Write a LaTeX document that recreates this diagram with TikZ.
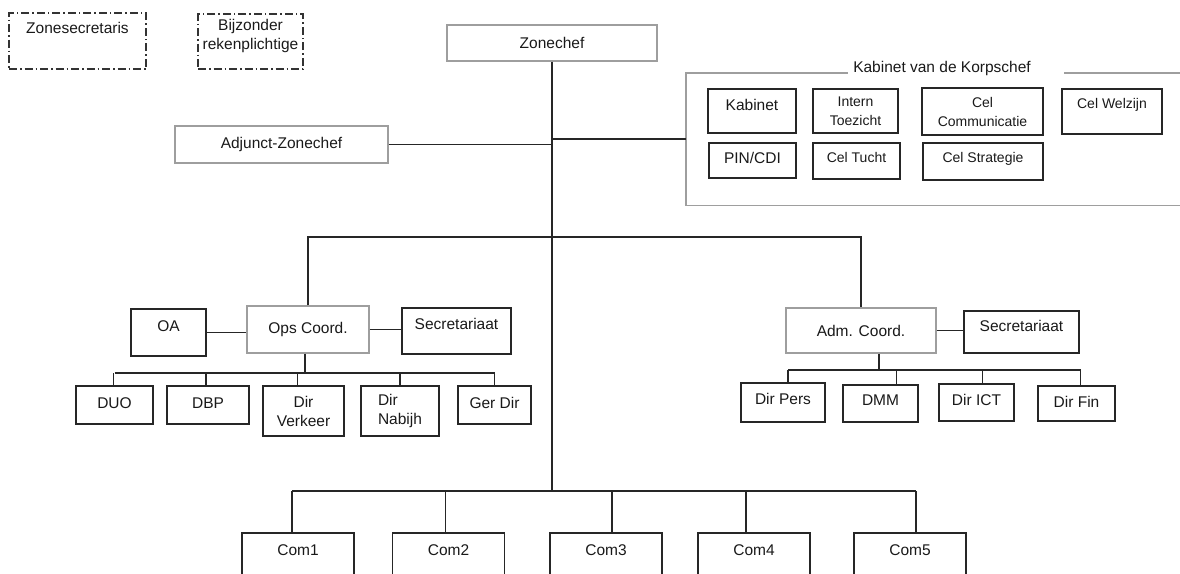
\documentclass[tikz,border=0pt]{standalone}
\usepackage{fontspec}
\setmainfont{Liberation Sans}
\begin{document}
\begin{tikzpicture}[x=1pt,y=-1pt] % 1pt = 1 пиксель
\tikzstyle{box} = [rectangle, draw=black!85, line width=1.7pt, inner sep=0pt, align=center, text=black!90, font=\fontsize{15.5}{19}\selectfont] % обычный блок
\tikzstyle{greybox} = [box, draw=black!38, line width=1.4pt] % серый блок
\tikzstyle{small} = [font=\fontsize{14}{19}\selectfont] % мелкий текст
\tikzstyle{dashbox} = [box, draw=black!80, line width=1.2pt, dash pattern=on 8pt off 3pt on 1.5pt off 3pt] % штрихпунктир
\tikzstyle{conn} = [draw=black!85, line width=1.7pt] % линии связи
\useasboundingbox (0,0) rectangle (1180,573);
\clip (0,0) rectangle (1180,573);
% верхний уровень
\node[dashbox, minimum width=137pt, minimum height=56pt, text depth=26pt] (zsec) at (77.5,41) {Zonesecretaris};
\node[dashbox, minimum width=105pt, minimum height=55pt, text depth=15pt] (bijz) at (250.5,41.5) {Bijzonder\\rekenplichtige};
\node[greybox, minimum width=210pt, minimum height=36pt] (zchef) at (552,43) {Zonechef};
\node[greybox, minimum width=213pt, minimum height=37pt] (adj) at (281.5,144.5) {Adjunct-Zonechef};
% кабинет
\node[minimum width=508pt, minimum height=132pt, inner sep=0pt] (kabframe) at (940,139) {};
\node[text=black!90, font=\fontsize{15.5}{19}\selectfont] (kabtitle) at (942,68) {Kabinet van de Korpschef};
\draw[draw=black!38, line width=1.4pt] ([xshift=-2pt]kabtitle.west |- kabframe.north) -| (kabframe.south west) -- (kabframe.south east);
\draw[draw=black!38, line width=1.4pt] ([xshift=30pt]kabtitle.east |- kabframe.north) -- (kabframe.north east);
\node[box, minimum width=88pt, minimum height=44pt, text depth=12pt] (kab) at (752,111) {Kabinet};
\node[box, small, minimum width=85pt, minimum height=44pt] (intern) at (855.5,111) {Intern\\Toezicht};
\node[box, small, minimum width=121pt, minimum height=47pt] (celcom) at (982.5,111.5) {Cel\\Communicatie};
\node[box, small, minimum width=100pt, minimum height=45pt, text depth=17pt] (welz) at (1112,111.5) {Cel Welzijn};
\node[box, minimum width=87pt, minimum height=35pt, text depth=5pt] (pin) at (752.5,160.5) {PIN/CDI};
\node[box, small, minimum width=87pt, minimum height=36pt, text depth=8pt] (tucht) at (856.5,161) {Cel Tucht};
\node[box, small, minimum width=120pt, minimum height=37pt, text depth=9pt] (strat) at (983,161.5) {Cel Strategie};
% операционная часть
\node[greybox, minimum width=122pt, minimum height=47pt] (ops) at (308,329.5) {Ops Coord.};
\node[box, minimum width=75pt, minimum height=47pt, text depth=13pt] (oa) at (168.5,332.5) {OA};
\node[box, minimum width=109pt, minimum height=46pt, text depth=14pt] (secl) at (456.5,331) {Secretariaat};
\node[box, minimum width=77pt, minimum height=38pt, text depth=4pt] (duo) at (114.5,405) {DUO};
\node[box, minimum width=82pt, minimum height=38pt, text depth=4pt] (dbp) at (208,405) {DBP};
\node[box, minimum width=81pt, minimum height=50pt] (verk) at (303.5,411) {Dir\\Verkeer};
\node[box, align=left, minimum width=78pt, minimum height=50pt] (nabijh) at (400,411) {Dir\\Nabijh};
\node[box, minimum width=73pt, minimum height=38pt, text depth=4pt] (gerdir) at (494.5,405) {Ger Dir};
% административная часть
\node[greybox, minimum width=150pt, minimum height=45pt] (adm) at (861,330.5) {Adm. Coord.};
\node[box, minimum width=115pt, minimum height=42pt, text depth=12pt] (secr) at (1021.5,332) {Secretariaat};
\node[box, minimum width=84pt, minimum height=39pt, text depth=7pt] (pers) at (783,402.5) {Dir Pers};
\node[box, minimum width=75pt, minimum height=37pt, text depth=7pt] (dmm) at (880.5,403.5) {DMM};
\node[box, minimum width=75pt, minimum height=37pt, text depth=5pt] (ict) at (976.5,402.5) {Dir ICT};
\node[box, minimum width=77pt, minimum height=35pt, text depth=3pt] (fin) at (1076.5,403.5) {Dir Fin};
% комиссариаты
\foreach \n/\x in {1/298,2/448.5,3/606,4/754,5/910}
  \node[box, minimum width=112pt, minimum height=50pt, text depth=16pt] (com\n) at (\x,558) {Com\n};
% связи
\coordinate (split) at (552,237);
\coordinate (combar) at (552,491);
\coordinate (opsbar) at (305,373);
\coordinate (admbar) at (879,370);
\draw[conn, line width=2.2pt] (zchef.south) -- (split);
\draw[conn] (split) -- (combar);
\draw[conn] (adj.east) -- (adj.east -| split);
\draw[conn] (kabframe.west) -- (kabframe.west -| split);
\draw[conn] (ops.north) |- (split) -| (adm.north);
\draw[conn] (oa.east) -- (oa.east -| ops.west);
\draw[conn] (ops.east) -- (ops.east -| secl.west);
\draw[conn] (adm.east) -- (adm.east -| secr.west);
\draw[conn] (ops.south -| opsbar) -- (opsbar);
\draw[conn] (duo.north |- opsbar) -- (gerdir.north |- opsbar);
\foreach \n/\dx in {duo/-1,dbp/-2,verk/-6,nabijh/0,gerdir/0}
  \draw[conn] ([xshift=\dx pt]\n.north) -- ([xshift=\dx pt]\n.north |- opsbar);
\draw[conn] (adm.south -| admbar) -- (admbar);
\draw[conn] ([xshift=5pt]pers.north |- admbar) -- ([xshift=4pt]fin.north |- admbar);
\foreach \n/\dx in {pers/5,dmm/16,ict/6,fin/4}
  \draw[conn] ([xshift=\dx pt]\n.north) -- ([xshift=\dx pt]\n.north |- admbar);
\draw[conn] ([xshift=-6pt]com1.north |- combar) -- ([xshift=6pt]com5.north |- combar);
\foreach \n/\dx in {1/-6,2/-3,3/6,4/-8,5/6}
  \draw[conn] ([xshift=\dx pt]com\n.north) -- ([xshift=\dx pt]com\n.north |- combar);
\end{tikzpicture}
\end{document}
